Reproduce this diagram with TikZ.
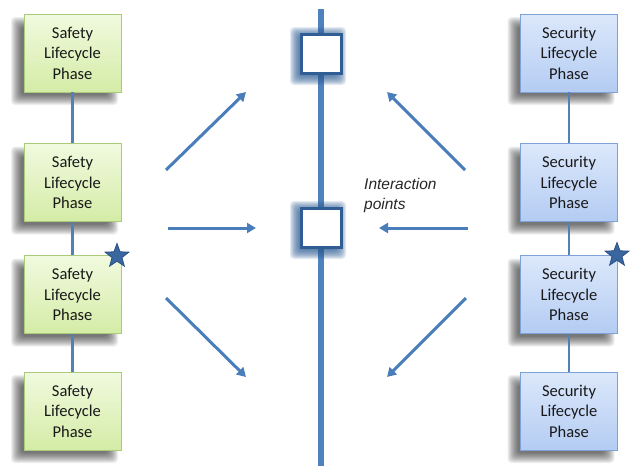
\documentclass[tikz,border=0pt]{standalone}
\usepackage{fontspec}
\setmainfont{Carlito}
\newfontfamily\labelfont{Liberation Sans}
\usetikzlibrary{arrows.meta,shapes.geometric}

\definecolor{linkblue}{HTML}{4F81BD}
\definecolor{arrowblue}{HTML}{4A7EBB}
\definecolor{frameblue}{HTML}{2F5D94}
\definecolor{safetop}{HTML}{F1FADF}
\definecolor{safebot}{HTML}{D4ECA6}
\definecolor{safeedge}{HTML}{A9CB7A}
\definecolor{sectop}{HTML}{DCE8FB}
\definecolor{secbot}{HTML}{B4CCF3}
\definecolor{secedge}{HTML}{7EA2D6}
\definecolor{starblue}{HTML}{3A66A0}
\definecolor{stardark}{HTML}{2A5184}

% soft shadow: stacked translucent rectangles between two corners
\newcommand\softshade[6]{%
  \foreach \k in {-5,...,5}{%
    \fill[#5, opacity=#6, rounded corners=4pt] ({#1+\k},{#2+\k}) rectangle ({#3-\k},{#4-\k});}}
% drop shadow of a phase box centred at (#1,#2)
\newcommand\boxshade[2]{\softshade{#1-56.5}{#2-31}{#1+40.5}{#2+47}{black}{0.065}}
% glow around an interaction point centred at (#1,#2)
\newcommand\pointglow[2]{\softshade{#1-26}{#2-22}{#1+20}{#2+26}{frameblue}{0.13}}

\tikzset{
  phase/.style={minimum width=97pt, minimum height=78pt, inner sep=0pt, align=center,
    font=\fontsize{16.5}{20.5}\selectfont, text=black!90, line width=0.8pt},
  safetybox/.style={phase, draw=safeedge, top color=safetop, bottom color=safebot},
  securitybox/.style={phase, draw=secedge, top color=sectop, bottom color=secbot},
  chain/.style={draw=linkblue, line width=2.6pt},
  axis/.style={draw=linkblue, line width=5.5pt},
  ipoint/.style={draw=frameblue, fill=white, line width=3pt, minimum width=40pt,
    minimum height=39pt, inner sep=0pt},
  flow/.style={draw=arrowblue, line width=3pt, -{Triangle[length=9pt,width=10pt]}},
  marker/.style={star, star points=5, star point ratio=2.4, minimum size=25pt,
    inner sep=0pt, fill=starblue, draw=stardark, line width=0.8pt},
}

\begin{document}
\begin{tikzpicture}[x=1pt, y=-1pt]
\useasboundingbox (0,0) rectangle (633,466);

% shadows under the phase boxes
\foreach \cy in {53,182.5,294.5,411}{\boxshade{72.5}{\cy}\boxshade{569}{\cy}}

% safety lifecycle column
\node[safetybox] (L1) at (72.5,53)    {Safety\\Lifecycle\\Phase};
\node[safetybox] (L2) at (72.5,182.5) {Safety\\Lifecycle\\Phase};
\node[safetybox] (L3) at (72.5,294.5) {Safety\\Lifecycle\\Phase};
\node[safetybox] (L4) at (72.5,411)   {Safety\\Lifecycle\\Phase};
\draw[chain] (L1.south) -- (L2.north);
\draw[chain] (L2.south) -- (L3.north);
\draw[chain] (L3.south) -- (L4.north);

% security lifecycle column
\node[securitybox] (R1) at (569,53)    {Security\\Lifecycle\\Phase};
\node[securitybox] (R2) at (569,182.5) {Security\\Lifecycle\\Phase};
\node[securitybox] (R3) at (569,294.5) {Security\\Lifecycle\\Phase};
\node[securitybox] (R4) at (569,411)   {Security\\Lifecycle\\Phase};
\draw[chain] (R1.south) -- (R2.north);
\draw[chain] (R2.south) -- (R3.north);
\draw[chain] (R3.south) -- (R4.north);

% stars
\node[marker] (LS) at (117,256) {};
\node[marker] (RS) at (617,255) {};

% central timeline with interaction points
\coordinate (axtop) at (321,9);
\coordinate (axbot) at (321,466);
\draw[axis] (axtop) -- (axbot);
\pointglow{321}{54}
\pointglow{321}{228}
\node[ipoint] (Q1) at (321,54) {};
\node[ipoint] (Q2) at (321,228) {};
\node[anchor=west, align=left, inner sep=0pt,
      font=\labelfont\itshape\fontsize{15.5}{20}\selectfont, text=black!85]
  (IP) at (364,195) {Interaction\\points};

% arrows from the safety side
\coordinate (a1s) at (166,170); \coordinate (a1e) at (246,92);
\coordinate (a2s) at (168,228); \coordinate (a2e) at (256,228);
\coordinate (a3s) at (166,298); \coordinate (a3e) at (246,377);
\draw[flow] (a1s) -- (a1e);
\draw[flow] (a2s) -- (a2e);
\draw[flow] (a3s) -- (a3e);

% arrows from the security side
\coordinate (b1s) at (465,170); \coordinate (b1e) at (387,92);
\coordinate (b2s) at (468,228); \coordinate (b2e) at (379,228);
\coordinate (b3s) at (466,298); \coordinate (b3e) at (387,377);
\draw[flow] (b1s) -- (b1e);
\draw[flow] (b2s) -- (b2e);
\draw[flow] (b3s) -- (b3e);
\end{tikzpicture}
\end{document}
